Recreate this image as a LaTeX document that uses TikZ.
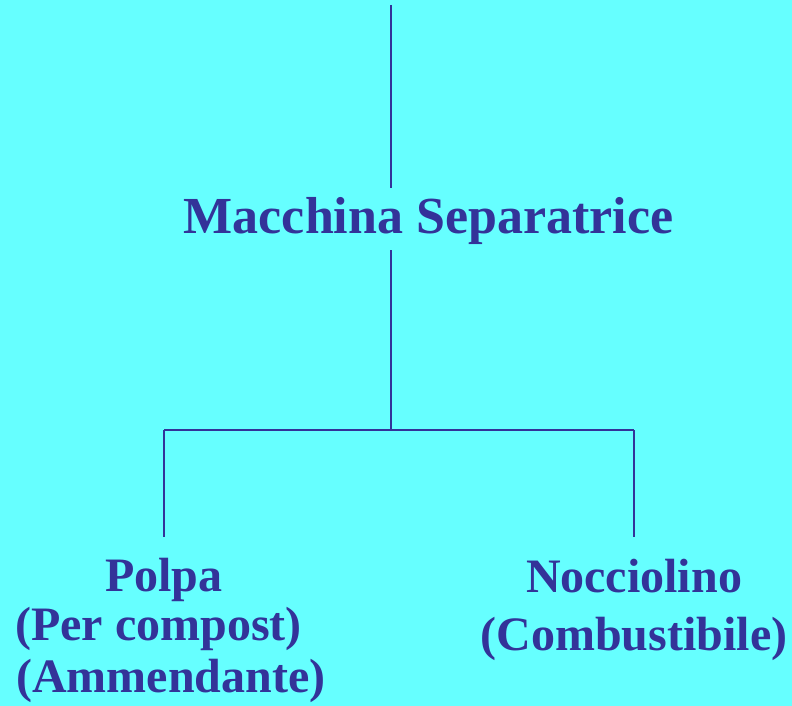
\documentclass[tikz,border=0pt]{standalone}
\usepackage{fontspec}
\setmainfont{Liberation Serif}
\definecolor{bgcyan}{HTML}{66FFFF}
\definecolor{inkblue}{HTML}{333399}

\begin{document}
\begin{tikzpicture}[x=0.75pt,y=-0.75pt,
	link/.style={draw=inkblue,line width=1.5pt},
	title/.style={inner sep=0pt,text=inkblue,font=\fontsize{39}{44}\selectfont\bfseries},
	label/.style={inner sep=0pt,text=inkblue,font=\fontsize{36}{42}\selectfont\bfseries}]
	\fill[bgcyan] (0,0) rectangle (792,706);
	\useasboundingbox (0,0) rectangle (792,706);

	\coordinate (top) at (391,5);
	\coordinate (hub) at (391,430);
	\coordinate (lft) at (164,430);
	\coordinate (rgt) at (634,430);

	\node[title,anchor=base,text height=33.75pt,text depth=12.75pt] (sep) at (428.5,233) {Macchina Separatrice};

	\node[label,anchor=base west,text height=40.5pt] (polpa) at (105,591) {Polpa};
	\node[label,anchor=base west] (compost) at (15,640) {(Per compost)};
	\node[label,anchor=base west] (ammend) at (16,692) {(Ammendante)};
	\node[label,anchor=base,text height=41.25pt] (nocc) at (634,592) {Nocciolino};
	\node[label,anchor=base] (combust) at (634,650) {(Combustibile)};

	\draw[link] (top) -- (top |- sep.north);
	\draw[link] (sep.south -| hub) -- (hub);
	\draw[link] (lft) -- (rgt);
	\draw[link] (lft) -- (lft |- polpa.north);%Polpa
	\draw[link] (rgt) -- (rgt |- nocc.north);%Nocciolino
\end{tikzpicture}
\end{document}
